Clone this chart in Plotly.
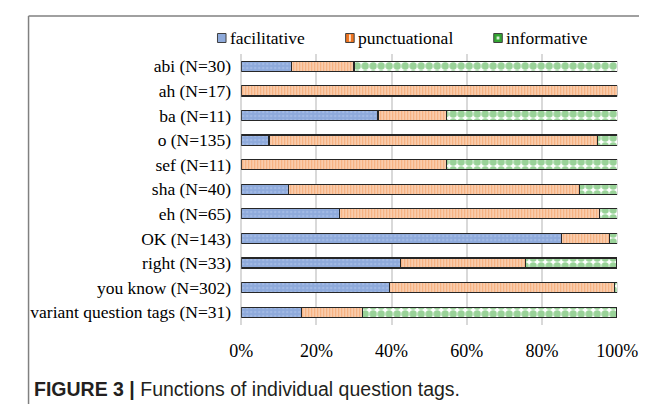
import plotly.graph_objects as go

W, H = 652, 404

categories = ["abi (N=30)", "ah (N=17)", "ba (N=11)", "o (N=135)", "sef (N=11)",
              "sha (N=40)", "eh (N=65)", "OK (N=143)", "right (N=33)",
              "you know (N=302)", "variant question tags (N=31)"]
facilitative = [13.3, 0.0, 36.4, 7.4, 0.0, 12.5, 26.2, 85.3, 42.4, 39.4, 16.1]
punctuational = [16.7, 100.0, 18.2, 87.4, 54.5, 77.5, 69.2, 12.6, 33.3, 59.9, 16.1]
informative = [70.0, 0.0, 45.5, 5.2, 45.5, 10.0, 4.6, 2.1, 24.2, 0.7, 67.7]
series_names = ["facilitative", "punctuational", "informative"]
tick_vals = [0, 20, 40, 60, 80, 100]
tick_text = ["0%", "20%", "40%", "60%", "80%", "100%"]

SERIF = "Liberation Serif, Times New Roman, serif"
SANS = "Liberation Sans, Arial, sans-serif"
BLUE, ORANGE, GREEN = "#8eaadb", "#ee7420", "#33a532"
EDGE = "#262626"

fig = go.Figure()
fig.add_trace(go.Bar(
    y=categories, x=facilitative, name=series_names[0], orientation="h",
    marker=dict(color=BLUE, line=dict(color=EDGE, width=1.2),
                pattern=dict(shape=".", bgcolor=BLUE, fgcolor="#b3c7ec",
                             size=4, solidity=0.3))))
fig.add_trace(go.Bar(
    y=categories, x=punctuational, name=series_names[1], orientation="h",
    marker=dict(color=ORANGE, line=dict(color=EDGE, width=1.2),
                pattern=dict(shape="|", bgcolor="#fde4d2", fgcolor=ORANGE,
                             size=3, solidity=0.62))))
fig.add_trace(go.Bar(
    y=categories, x=informative, name=series_names[2], orientation="h",
    marker=dict(color=GREEN, line=dict(color=EDGE, width=1.2),
                pattern=dict(shape=".", bgcolor="#ffffff", fgcolor=GREEN,
                             size=8, solidity=0.68))))

x0, x1 = 233 / W, 629 / W
ytop, ybot = 1 - 46 / H, 1 - 316.5 / H


def py(v):
    return 1 - v / H


# manual legend (squares + labels)
leg_y = 30
leg_sq = [208, 343, 499]
leg_cols = [BLUE, ORANGE, GREEN]
shapes = [
    dict(type="line", xref="paper", yref="paper", x0=9 / W, x1=1,
         y0=py(8), y1=py(8), line=dict(color="#808080", width=1.5)),
    dict(type="line", xref="paper", yref="paper", x0=9 / W, x1=9 / W,
         y0=0, y1=py(8), line=dict(color="#808080", width=1.5)),
]
annotations = []
for sx, col, name in zip(leg_sq, leg_cols, series_names):
    shapes.append(dict(type="rect", xref="paper", yref="paper",
                       x0=sx / W, x1=(sx + 9) / W, y0=py(leg_y + 4.5), y1=py(leg_y - 4.5),
                       fillcolor=col, line=dict(color="#404040", width=1)))
    if name == "punctuational":
        shapes.append(dict(type="rect", xref="paper", yref="paper",
                           x0=(sx + 3.5) / W, x1=(sx + 5.5) / W,
                           y0=py(leg_y + 3.5), y1=py(leg_y - 3.5),
                           fillcolor="#fde3cf", line=dict(width=0)))
    if name == "informative":
        shapes.append(dict(type="rect", xref="paper", yref="paper",
                           x0=(sx + 3) / W, x1=(sx + 6) / W,
                           y0=py(leg_y + 1.5), y1=py(leg_y - 1.5),
                           fillcolor="#d8efd6", line=dict(width=0)))
    annotations.append(dict(xref="paper", yref="paper", x=(sx + 11) / W, y=py(leg_y),
                            xanchor="left", yanchor="middle", showarrow=False,
                            text=name, font=dict(family=SERIF, size=17.5, color="#000000")))

annotations.append(dict(
    xref="paper", yref="paper", x=13 / W, y=py(381),
    xanchor="left", yanchor="middle", showarrow=False,
    text="<b>FIGURE 3 |</b> Functions of individual question tags.",
    font=dict(family=SANS, size=19.5, color="#231f20")))

fig.update_layout(
    width=W, height=H, barmode="stack", bargap=0.59,
    margin=dict(l=0, r=0, t=0, b=0),
    paper_bgcolor="white", plot_bgcolor="white",
    font=dict(family=SERIF, size=17.5, color="#000000"),
    showlegend=False,
    xaxis=dict(domain=[x0, x1], range=[0, 100], tickvals=tick_vals,
               ticktext=tick_text, showgrid=True, gridcolor="#d9d9d9",
               gridwidth=1.5, zeroline=True, zerolinecolor="#d9d9d9",
               zerolinewidth=2, showline=False, ticks="",
               tickfont=dict(family=SERIF, size=18),
               ticklabelstandoff=13, fixedrange=True),
    yaxis=dict(domain=[ybot, ytop], autorange="reversed", categoryorder="array",
               categoryarray=categories, showgrid=False, zeroline=False,
               showline=False, ticks="", tickfont=dict(family=SERIF, size=17.5),
               ticklabelstandoff=9, fixedrange=True),
    shapes=shapes,
    annotations=annotations,
)

fig.write_html("out.html")
